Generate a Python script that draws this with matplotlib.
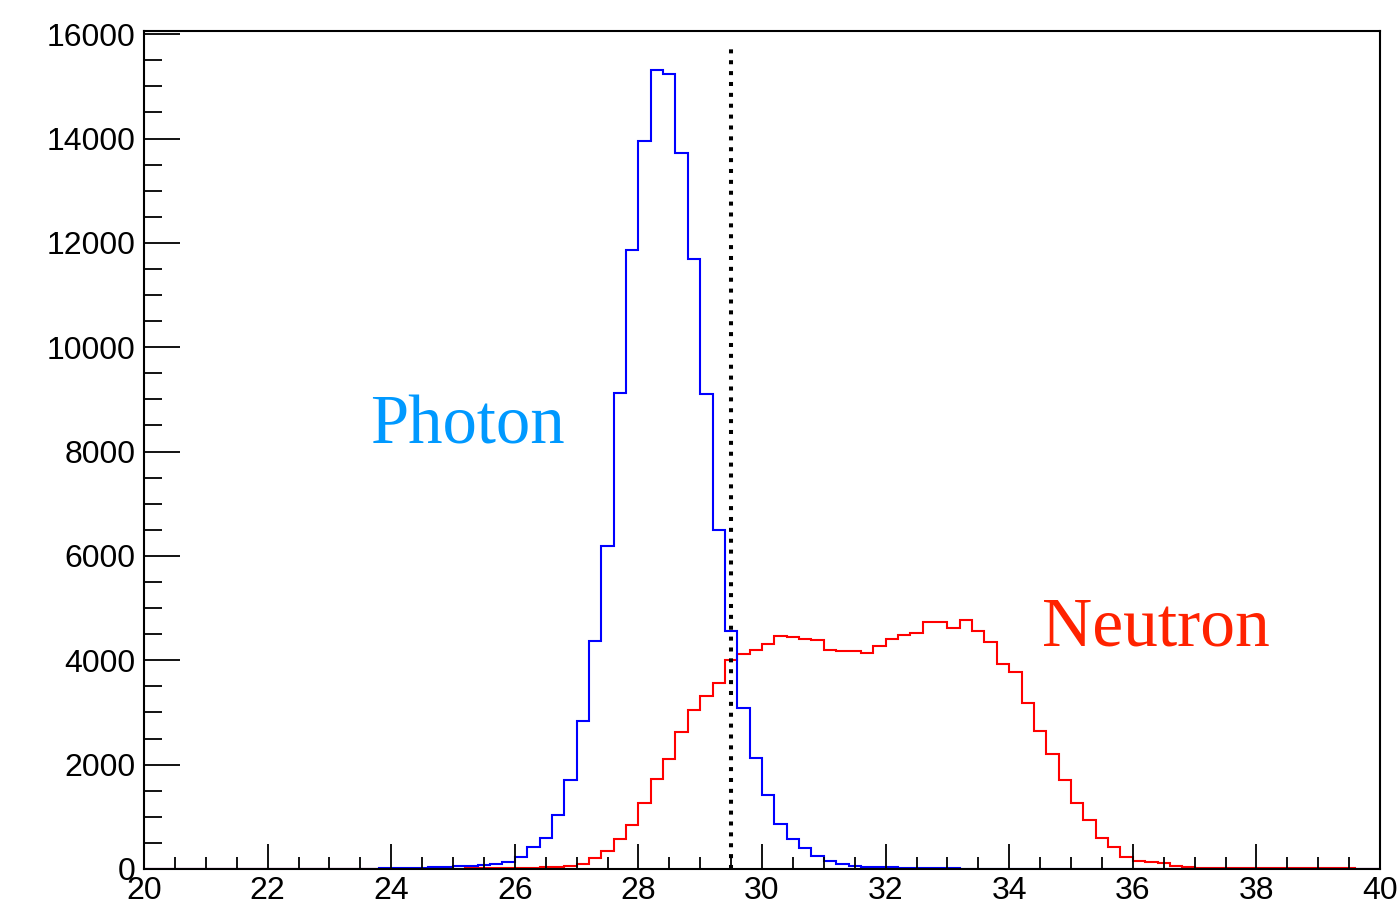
import numpy as np
import matplotlib
matplotlib.use("Agg")
import matplotlib.pyplot as plt

# bin edges 20..40, width 0.2
x_lo, x_hi, nbins = 20.0, 40.0, 100

photon = [0, 0, 0, 1, 0, 1, 1, 1, 2, 2,
          2, 3, 3, 4, 5, 5, 6, 7, 8, 10,
          12, 18, 25, 30, 38, 50, 60, 70, 100, 125,
          230, 420, 600, 1035, 1705, 2840, 4370, 6200, 9120, 11865,
          13955, 15305, 15235, 13715, 11700, 9095, 6495, 4560, 3085, 2135,
          1420, 855, 580, 410, 250, 160, 100, 65, 45, 38,
          30, 25, 20, 15, 12, 10, 8, 7, 6, 5,
          5, 4, 4, 3, 3, 3, 2, 2, 2, 2,
          1, 1, 1, 1, 1, 1, 0, 0, 0, 0,
          0, 0, 0, 0, 0, 0, 0, 0, 0, 0]

neutron = [0, 0, 0, 0, 0, 1, 0, 1, 1, 1,
           1, 2, 2, 2, 3, 3, 3, 4, 4, 5,
           5, 6, 6, 7, 8, 9, 10, 12, 14, 16,
           20, 22, 30, 45, 65, 95, 205, 350, 570, 850,
           1260, 1720, 2100, 2625, 3050, 3320, 3565, 4005, 4125, 4205,
           4312, 4465, 4445, 4415, 4390, 4195, 4185, 4170, 4145, 4280,
           4405, 4488, 4532, 4742, 4740, 4625, 4765, 4565, 4345, 3930,
           3770, 3173, 2645, 2208, 1712, 1270, 940, 600, 415, 235,
           150, 140, 110, 55, 40, 28, 25, 22, 20, 18,
           16, 15, 14, 13, 12, 11, 10, 10, 9, 8]

cut_x = 29.5
cut_top = 15720

edges = np.linspace(x_lo, x_hi, nbins + 1)
ymax = 1.05 * max(photon)

fig = plt.figure(figsize=(13.98, 9.11), dpi=100)
ax = fig.add_axes([144 / 1398, 1 - 869 / 911, (1380 - 144) / 1398, (869 - 30.5) / 911])

ax.stairs(neutron, edges, color="#ff0000", linewidth=1.5, baseline=0)
ax.stairs(photon, edges, color="#0000ff", linewidth=1.5, baseline=0)
ax.plot([cut_x, cut_x], [0, cut_top], color="black", linewidth=2.9,
        linestyle=(0, (1, 1.7)), dash_capstyle="butt")

ax.set_xlim(x_lo, x_hi)
ax.set_ylim(0, ymax)

ax.set_xticks(np.arange(20, 41, 2))
ax.set_xticks(np.arange(20, 40.01, 0.5), minor=True)
ax.set_yticks(np.arange(0, 16001, 2000))
ax.set_yticks(np.arange(0, 16001, 500), minor=True)

for s in ax.spines.values():
    s.set_linewidth(1.5)

ax.tick_params(axis="both", which="both", direction="in", top=False, right=False,
               width=1.3, labelsize=23)
ax.tick_params(axis="y", which="major", length=26, pad=6)
ax.tick_params(axis="y", which="minor", length=13)
ax.tick_params(axis="x", which="major", length=18, pad=5)
ax.tick_params(axis="x", which="minor", length=9)
for lab in ax.get_xticklabels() + ax.get_yticklabels():
    lab.set_fontfamily("Liberation Sans")

ax.text(23.65, 8160, "Photon", color="#0099ff", fontsize=49.5,
        family="Liberation Serif", ha="left", va="baseline")
ax.text(34.53, 4290, "Neutron", color="#ff2200", fontsize=50,
        family="Liberation Serif", ha="left", va="baseline")

fig.savefig("out.png", dpi=100)
